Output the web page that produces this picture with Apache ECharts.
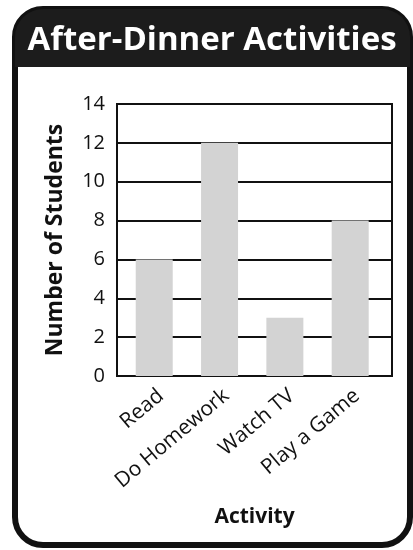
<!DOCTYPE html>
<html><head><meta charset="utf-8">
<script src="https://cdn.jsdelivr.net/npm/echarts@6/dist/echarts.min.js"></script>
<style>html,body{margin:0;padding:0;background:#fff}#c{width:413px;height:550px}</style>
</head><body><div id="c"></div>
<script>
const title = "After-Dinner Activities";
const categories = ["Read", "Do Homework", "Watch TV", "Play a Game"];
const values = [6, 12, 3, 8];
const yTicks = [0, 2, 4, 6, 8, 10, 12, 14];
const xName = "Activity";
const yName = "Number of Students";

const chart = echarts.init(document.getElementById('c'), null, {renderer: 'canvas'});
const font = '"Open Sans", sans-serif';
const catIdx = categories.map((c, i) => i);
chart.setOption({
  animation: false,
  backgroundColor: '#fff',
  graphic: [
    {type: 'rect', z: -10, shape: {x: 15, y: 9, width: 395, height: 536, r: 28},
     style: {fill: '#fff', stroke: '#111', lineWidth: 6}},
    {type: 'rect', z: -9, shape: {x: 15, y: 9, width: 395, height: 58, r: [28, 28, 0, 0]},
     style: {fill: '#1c1c1c'}},
    {type: 'text', z: 10, x: 212, y: 41,
     style: {text: title, fill: '#fff', font: 'bold 33px "Open Sans", sans-serif',
             textAlign: 'center', textVerticalAlign: 'middle'}}
  ],
  grid: {left: 117, right: 21, top: 104, bottom: 174, show: true, borderColor: '#111', borderWidth: 2, backgroundColor: 'transparent'},
  xAxis: {
    type: 'value', min: -0.57, max: 3.64,
    name: xName, nameLocation: 'middle', nameGap: 131,
    nameTextStyle: {fontFamily: font, fontWeight: 'bold', fontSize: 21, color: '#111'},
    axisLine: {show: true, onZero: false, lineStyle: {color: '#111', width: 2}},
    axisTick: {show: false},
    splitLine: {show: false},
    axisLabel: {rotate: 40, fontFamily: font, fontSize: 21, color: '#111', margin: 9,
                verticalAlign: 'top', customValues: catIdx,
                formatter: v => categories[Math.round(v)]}
  },
  yAxis: {
    type: 'value', min: 0, max: 14, interval: 2,
    name: yName, nameLocation: 'middle', nameGap: 50,
    nameTextStyle: {fontFamily: font, fontWeight: 'bold', fontSize: 23, color: '#111'},
    axisLine: {show: true, onZero: false, lineStyle: {color: '#111', width: 2}},
    axisTick: {show: false},
    axisLabel: {fontFamily: font, fontSize: 20, color: '#111', margin: 12,
                formatter: v => yTicks.includes(v) ? String(v) : ''},
    splitLine: {show: true, lineStyle: {color: '#111', width: 2}}
  },
  series: [{
    type: 'bar', data: values.map((v, i) => [catIdx[i], v]), barWidth: 37,
    itemStyle: {color: '#d3d3d3'}
  }]
});
</script></body></html>
